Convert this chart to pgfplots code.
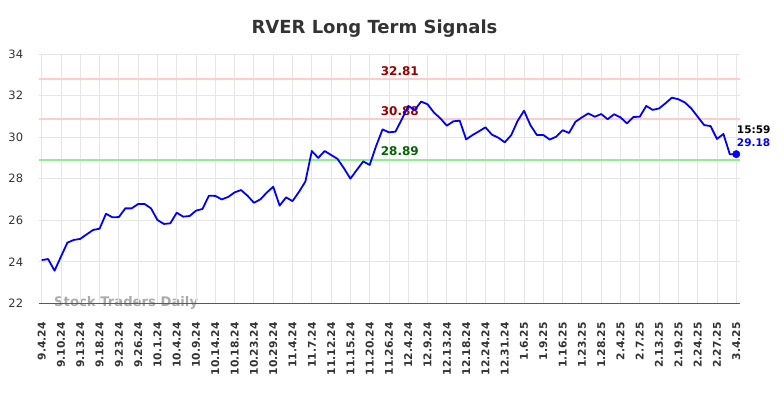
\documentclass[border=0pt]{standalone}
\usepackage{pgfplots}
\pgfplotsset{compat=1.18}
\usepackage{fontspec}
\setmainfont{DejaVu Sans}
\definecolor{txt}{HTML}{333333}
\definecolor{gridc}{HTML}{E6E6E6}
\definecolor{pinkl}{HTML}{FFCCCC}
\definecolor{greenl}{HTML}{90EE90}
\definecolor{dred}{HTML}{990000}
\definecolor{dgreen}{HTML}{006600}
\definecolor{wm}{HTML}{AAAAAA}
\pgfplotstableread{
x y
0 24.08
1 24.13
2 23.57
3 24.25
4 24.92
5 25.05
6 25.10
7 25.32
8 25.53
9 25.59
10 26.31
11 26.14
12 26.15
13 26.57
14 26.57
15 26.78
16 26.78
17 26.57
18 26.01
19 25.82
20 25.85
21 26.36
22 26.17
23 26.20
24 26.46
25 26.54
26 27.18
27 27.17
28 27.00
29 27.12
30 27.34
31 27.45
32 27.18
33 26.84
34 27.00
35 27.33
36 27.61
37 26.70
38 27.10
39 26.92
40 27.36
41 27.86
42 29.33
43 29.00
44 29.33
45 29.14
46 28.95
47 28.50
48 28.00
49 28.42
50 28.83
51 28.66
52 29.57
53 30.37
54 30.23
55 30.26
56 30.86
57 31.50
58 31.31
59 31.71
60 31.58
61 31.18
62 30.90
63 30.55
64 30.76
65 30.79
66 29.89
67 30.10
68 30.28
69 30.47
70 30.12
71 29.97
72 29.75
73 30.09
74 30.78
75 31.27
76 30.57
77 30.10
78 30.10
79 29.88
80 30.02
81 30.33
82 30.20
83 30.74
84 30.95
85 31.14
86 30.98
87 31.11
88 30.86
89 31.10
90 30.95
91 30.66
92 30.97
93 30.98
94 31.50
95 31.31
96 31.38
97 31.63
98 31.90
99 31.82
100 31.67
101 31.38
102 30.98
103 30.58
104 30.53
105 29.91
106 30.15
107 29.17
108 29.18
}\pricedata
\begin{document}
\begin{tikzpicture}
\useasboundingbox (-39.3bp,-94.7bp) rectangle (744.7bp,303.3bp);
\node[anchor=base west, inner sep=0pt, text=wm, font=\fontsize{13.2bp}{15bp}\selectfont\bfseries] at (14.7bp,-3.2bp) {Stock Traders Daily};
\begin{axis}[
  at={(0bp,0bp)}, anchor=south west,
  scale only axis,
  width=700.7bp, height=249.3bp,
  xmin=-0.37, xmax=108.58,
  ymin=22, ymax=34,
  xtick={0,3,...,108},
  xticklabels={9.4.24,9.10.24,9.13.24,9.18.24,9.23.24,9.26.24,10.1.24,10.4.24,10.9.24,10.14.24,10.18.24,10.23.24,10.29.24,11.4.24,11.7.24,11.12.24,11.15.24,11.20.24,11.26.24,12.4.24,12.9.24,12.13.24,12.18.24,12.24.24,12.31.24,1.6.25,1.9.25,1.16.25,1.23.25,1.28.25,2.4.25,2.7.25,2.13.25,2.19.25,2.24.25,2.27.25,3.4.25},
  ytick={22,24,...,34},
  /pgf/number format/assume math mode=true,
  major tick length=0pt,
  grid=major,
  major grid style={draw=gridc, line width=0.9bp},
  separate axis lines,
  axis x line*=bottom,
  axis y line*=left,
  x axis line style={-, draw=black!65, line width=1bp},
  y axis line style={draw=none},
  xticklabel style={rotate=90, anchor=east, inner sep=0pt, text=txt, font=\fontsize{10.7bp}{12bp}\selectfont\bfseries},
  xticklabel shift=18.7bp,
  yticklabel style={anchor=east, inner sep=0pt, text=txt, font=\fontsize{11.5bp}{13bp}\selectfont},
  yticklabel shift=16bp,
  clip=false,
]
\addplot[pinkl, line width=1.8bp] coordinates {(-0.37,32.81) (108.58,32.81)};
\addplot[pinkl, line width=1.8bp] coordinates {(-0.37,30.88) (108.58,30.88)};
\addplot[greenl, line width=1.8bp] coordinates {(-0.37,28.89) (108.58,28.89)};
\node[anchor=base west, inner sep=0pt, text=dred, font=\fontsize{12bp}{14bp}\selectfont\bfseries] at (axis cs:52.7,32.81) [yshift=3.7bp] {32.81};
\node[anchor=base west, inner sep=0pt, text=dred, font=\fontsize{12bp}{14bp}\selectfont\bfseries] at (axis cs:52.7,30.88) [yshift=3.7bp] {30.88};
\node[anchor=base west, inner sep=0pt, text=dgreen, font=\fontsize{12bp}{14bp}\selectfont\bfseries] at (axis cs:52.7,28.89) [yshift=4.3bp] {28.89};
\addplot[blue, line width=1.8bp, line join=round] table[x=x, y=y] {\pricedata};
\addplot[blue, only marks, mark=*, mark size=3.7bp] coordinates {(108,29.18)};
\node[anchor=base west, inner sep=0pt, text=black, font=\fontsize{10.5bp}{12bp}\selectfont\bfseries] at (axis cs:108,29.18) [xshift=0.5bp, yshift=20.7bp] {15:59};
\node[anchor=base west, inner sep=0pt, text=blue, font=\fontsize{10.5bp}{12bp}\selectfont\bfseries] at (axis cs:108,29.18) [xshift=0.5bp, yshift=7.3bp] {29.18};
\end{axis}
\node[anchor=base, inner sep=0pt, text=txt, font=\fontsize{18bp}{21bp}\selectfont\bfseries] at (335.2bp,269.3bp) {RVER Long Term Signals};
\end{tikzpicture}
\end{document}
